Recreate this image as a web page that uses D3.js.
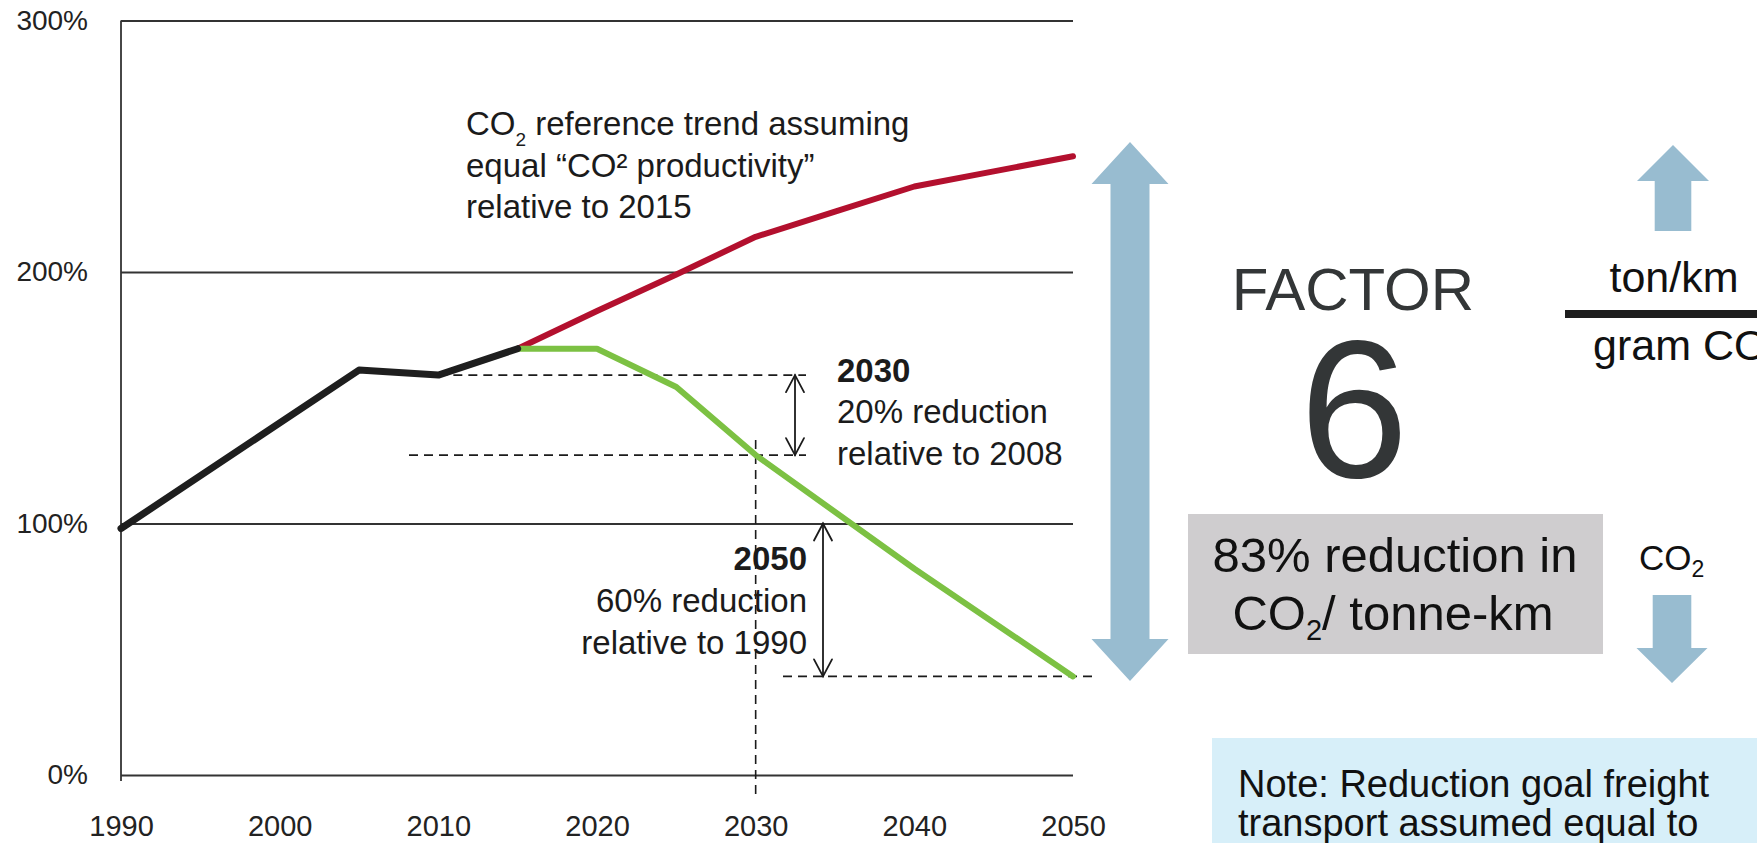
<!DOCTYPE html>
<html>
<head>
<meta charset="utf-8">
<script src="https://cdn.jsdelivr.net/npm/d3@7"></script>
<style>
  html, body { margin: 0; padding: 0; background: #fff; overflow: hidden; }
  svg { display: block; font-family: "Liberation Sans", Arial, sans-serif; }
</style>
</head>
<body>
<svg id="chart" width="1757" height="843"></svg>
<script>
// ---- data -------------------------------------------------------------
const tickYears    = [1990, 2000, 2010, 2020, 2030, 2040, 2050];
const tickPercents = [0, 100, 200, 300];

// historical CO2 index (1990 ≈ 100)
const histYears  = [1990, 2005, 2010, 2015];
const histValues = [98, 161, 159, 169.5];

// reference trend at equal CO2 productivity
const refYears  = [2015, 2020, 2025, 2030, 2035, 2040, 2045, 2050];
const refValues = [169.5, 184.5, 199, 214, 224, 234, 240, 246];

// reduction path towards the 2030 and 2050 goals
const goalYears  = [2015, 2020, 2025, 2030, 2040, 2050];
const goalValues = [169.5, 169.5, 154.3, 127.2, 82, 39.2];

// ---- scales -----------------------------------------------------------
const svg = d3.select("#chart");
const x = d3.scaleLinear().domain([1990, 2050]).range([121, 1073]);
const y = d3.scaleLinear().domain([0, 300]).range([775, 20.5]);

const INK = "#1b1b1b";

// ---- axes -------------------------------------------------------------
const yAxis = d3.axisLeft(y)
  .tickValues(tickPercents)
  .tickFormat(d => d + "%")
  .tickSize(-(x.range()[1] - x.range()[0]))
  .tickPadding(33);

const gy = svg.append("g")
  .attr("transform", `translate(${x.range()[0]},0)`)
  .call(yAxis);
gy.select(".domain").remove();
gy.selectAll(".tick line").attr("stroke", "#333").attr("stroke-width", 1.8);
gy.selectAll(".tick text")
  .attr("fill", "#222")
  .style("font-size", "28px")
  .style("font-family", "'Liberation Sans', Arial, sans-serif");

// vertical axis line
svg.append("line")
  .attr("x1", x(1990)).attr("x2", x(1990))
  .attr("y1", y(300)).attr("y2", y(0) + 6)
  .attr("stroke", "#333").attr("stroke-width", 1.8);

const xAxis = d3.axisBottom(x)
  .tickValues(tickYears)
  .tickFormat(d3.format("d"))
  .tickSize(0)
  .tickPadding(40);

const gx = svg.append("g")
  .attr("transform", `translate(0,${y(0)})`)
  .call(xAxis);
gx.select(".domain").remove();
gx.selectAll(".tick text")
  .attr("fill", "#222")
  .style("font-size", "29px")
  .style("font-family", "'Liberation Sans', Arial, sans-serif");

// ---- guide lines (dashed) ---------------------------------------------
const dash = "9,6";
function dashed(x1, y1, x2, y2) {
  svg.append("line")
    .attr("x1", x1).attr("y1", y1).attr("x2", x2).attr("y2", y2)
    .attr("stroke", INK).attr("stroke-width", 1.6)
    .attr("stroke-dasharray", dash);
}
// 2008 level and 2030 goal level
dashed(x(2010), y(histValues[2]), 806, y(histValues[2]));
dashed(409, y(goalValues[3]), 806, y(goalValues[3]));
// 2030 marker
dashed(x(2030), 440, x(2030), 795);
// 2050 goal level
dashed(783, y(goalValues[5]), 1093, y(goalValues[5]));

// ---- series -----------------------------------------------------------
const line = d3.line().x(d => x(d[0])).y(d => y(d[1]));

function series(years, values, color, width) {
  svg.append("path")
    .datum(d3.zip(years, values))
    .attr("d", line)
    .attr("fill", "none")
    .attr("stroke", color)
    .attr("stroke-width", width)
    .attr("stroke-linejoin", "round")
    .attr("stroke-linecap", "round");
}
series(refYears, refValues, "#b3102e", 6);
series(goalYears, goalValues, "#7cc143", 6);
series(histYears, histValues, "#1e1e1e", 7);

// ---- double-headed measuring arrows -----------------------------------
function measureArrow(px, yTop, yBottom) {
  const g = svg.append("g")
    .attr("fill", "none").attr("stroke", INK)
    .attr("stroke-width", 1.8).attr("stroke-linecap", "round");
  g.append("line").attr("x1", px).attr("x2", px).attr("y1", yTop).attr("y2", yBottom);
  g.append("path").attr("d", `M${px - 9},${yTop + 17} L${px},${yTop} L${px + 9},${yTop + 17}`);
  g.append("path").attr("d", `M${px - 9},${yBottom - 17} L${px},${yBottom} L${px + 9},${yBottom - 17}`);
}
measureArrow(795, y(histValues[2]), y(goalValues[3]));
measureArrow(823, y(100), y(goalValues[5]));

// ---- annotation text --------------------------------------------------
function textBlock(tx, anchor, lines) {
  const t = svg.append("g").attr("fill", INK)
    .style("font-size", "33px");
  lines.forEach(l => {
    t.append("text")
      .attr("x", tx).attr("y", l.y)
      .attr("text-anchor", anchor)
      .style("font-weight", l.bold ? "bold" : "normal")
      .text(l.text);
  });
}

// reference trend label with subscript
const refLabel = svg.append("g").attr("fill", INK).style("font-size", "33px");
const t1 = refLabel.append("text").attr("x", 466).attr("y", 135);
t1.append("tspan").text("CO");
t1.append("tspan").attr("dy", 11).style("font-size", "19px").text("2");
t1.append("tspan").attr("dy", -11).text(" reference trend assuming");
refLabel.append("text").attr("x", 466).attr("y", 177).text("equal \u201CCO\u00B2 productivity\u201D");
refLabel.append("text").attr("x", 466).attr("y", 218).text("relative to 2015");

textBlock(837, "start", [
  { text: "2030", y: 382, bold: true },
  { text: "20% reduction", y: 423 },
  { text: "relative to 2008", y: 465 }
]);
textBlock(807, "end", [
  { text: "2050", y: 570, bold: true },
  { text: "60% reduction", y: 612 },
  { text: "relative to 1990", y: 654 }
]);

// ---- right-hand panel -------------------------------------------------
const ARROW_BLUE = "#98bcd0";

function blockArrow(cx, yTop, yBottom, headUp, headDown, headLen, headHalf, shaftHalf) {
  const pts = [];
  if (headUp) {
    pts.push([cx, yTop], [cx + headHalf, yTop + headLen], [cx + shaftHalf, yTop + headLen]);
  } else {
    pts.push([cx + shaftHalf, yTop]);
  }
  if (headDown) {
    pts.push([cx + shaftHalf, yBottom - headLen], [cx + headHalf, yBottom - headLen], [cx, yBottom],
             [cx - headHalf, yBottom - headLen], [cx - shaftHalf, yBottom - headLen]);
  } else {
    pts.push([cx + shaftHalf, yBottom], [cx - shaftHalf, yBottom]);
  }
  if (headUp) {
    pts.push([cx - shaftHalf, yTop + headLen], [cx - headHalf, yTop + headLen]);
  } else {
    pts.push([cx - shaftHalf, yTop]);
  }
  svg.append("polygon")
    .attr("points", pts.map(p => p.join(",")).join(" "))
    .attr("fill", ARROW_BLUE);
}

// span between reference trend and goal in 2050
blockArrow(1130, 142, 681, true, true, 42, 38.5, 19.5);
// productivity up, emissions down
blockArrow(1673, 145, 231, true, false, 36, 36, 18.3);
blockArrow(1672, 595, 683, false, true, 35, 35.5, 19.3);

svg.append("text")
  .attr("x", 1353).attr("y", 310)
  .attr("text-anchor", "middle")
  .attr("fill", "#333637")
  .style("font-size", "60px")
  .text("FACTOR");

svg.append("text")
  .attr("x", 1354).attr("y", 477)
  .attr("text-anchor", "middle")
  .attr("fill", "#333637")
  .style("font-size", "196px")
  .text("6");

// grey summary box
svg.append("rect")
  .attr("x", 1188).attr("y", 514).attr("width", 415).attr("height", 140)
  .attr("fill", "#cfcdcf");
svg.append("text")
  .attr("x", 1395).attr("y", 572)
  .attr("text-anchor", "middle").attr("fill", "#111")
  .style("font-size", "49px")
  .text("83% reduction in");
const boxLine = svg.append("text")
  .attr("x", 1393).attr("y", 630)
  .attr("text-anchor", "middle").attr("fill", "#111")
  .style("font-size", "49px");
boxLine.append("tspan").text("CO");
boxLine.append("tspan").attr("dy", 10).style("font-size", "29px").text("2");
boxLine.append("tspan").attr("dy", -10).text("/ tonne-km");

// CO2 label next to the down arrow
const co2 = svg.append("text").attr("x", 1639).attr("y", 570).attr("fill", "#111").style("font-size", "35px");
co2.append("tspan").text("CO");
co2.append("tspan").attr("dy", 7).style("font-size", "23px").text("2");

// productivity fraction
svg.append("text")
  .attr("x", 1674).attr("y", 292)
  .attr("text-anchor", "middle").attr("fill", "#111")
  .style("font-size", "43px")
  .text("ton/km");
svg.append("rect")
  .attr("x", 1565).attr("y", 310).attr("width", 200).attr("height", 8)
  .attr("fill", "#1e1e1e");
const gram = svg.append("text").attr("x", 1593).attr("y", 360).attr("fill", "#111").style("font-size", "43px");
gram.append("tspan").text("gram CO");
gram.append("tspan").attr("dy", 9).style("font-size", "27px").text("2");

// note box
svg.append("rect")
  .attr("x", 1212).attr("y", 738).attr("width", 560).attr("height", 120)
  .attr("fill", "#d7eff9");
const note = svg.append("g").attr("fill", "#111").style("font-size", "38px");
note.append("text").attr("x", 1238).attr("y", 797).text("Note: Reduction goal freight");
note.append("text").attr("x", 1238).attr("y", 836).text("transport assumed equal to");
</script>
</body>
</html>
